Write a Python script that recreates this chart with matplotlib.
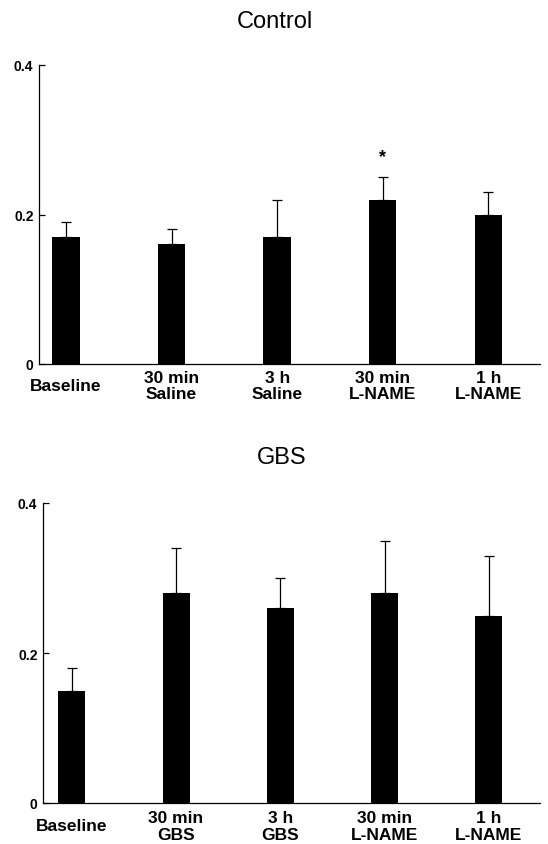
import matplotlib
matplotlib.use("Agg")
import matplotlib.pyplot as plt
from matplotlib.transforms import blended_transform_factory
import numpy as np

plt.rcParams['font.family'] = ['Liberation Sans', 'DejaVu Sans']

# Control panel
control_labels = ["Baseline", "30 min\nSaline", "3 h\nSaline", "30 min\nL-NAME", "1 h\nL-NAME"]
control_means = [0.17, 0.16, 0.17, 0.22, 0.20]
control_errs = [0.02, 0.02, 0.05, 0.03, 0.03]
control_marks = ["", "", "", "*", ""]

# GBS panel
gbs_labels = ["Baseline", "30 min\nGBS", "3 h\nGBS", "30 min\nL-NAME", "1 h\nL-NAME"]
gbs_means = [0.15, 0.28, 0.26, 0.28, 0.25]
gbs_errs = [0.03, 0.06, 0.04, 0.07, 0.08]

y_ticks = [0, 0.2, 0.4]
y_ticklabels = ["0", "0.2", "0.4"]


def draw_panel(ax, labels, means, errs, marks, xlim, label_pad):
    x = np.arange(len(means))
    ax.bar(x, means, width=0.26, color='black', zorder=2)
    ax.errorbar(x, means, yerr=[np.zeros(len(errs)), errs], fmt='none',
                ecolor='black', elinewidth=0.9, capsize=3.5, capthick=0.9, zorder=1)
    for xi, m, e, s in zip(x, means, errs, marks):
        if s:
            ax.text(xi, m + e + 0.028, s, ha='center', va='center',
                    fontsize=13, fontweight='bold')

    ax.set_xlim(*xlim)
    ax.set_ylim(0, 0.4)
    ax.set_yticks(y_ticks)
    ax.set_yticklabels(y_ticklabels, fontsize=10, fontweight='bold')
    ax.tick_params(axis='y', direction='in', length=4, width=0.9, pad=4)
    ax.set_xticks([])

    # category labels, centred a little below the axis
    trans = blended_transform_factory(ax.transData, ax.transAxes)
    for xi, lab in zip(x, labels):
        ax.annotate(lab, xy=(xi, 0), xycoords=trans, xytext=(0, -label_pad),
                    textcoords='offset points', ha='center', va='center',
                    fontsize=12.5, fontweight='bold', linespacing=1.1,
                    annotation_clip=False)

    ax.spines['top'].set_visible(False)
    ax.spines['right'].set_visible(False)
    ax.spines['left'].set_linewidth(0.9)
    ax.spines['bottom'].set_linewidth(0.9)


fig = plt.figure(figsize=(5.48, 8.45), dpi=100)

ax1 = fig.add_axes([39 / 548, 1 - 365 / 845, (540 - 39) / 548, (365 - 66) / 845])
draw_panel(ax1, control_labels, control_means, control_errs, control_marks,
           (-0.256, 4.49), 15.5)

ax2 = fig.add_axes([43 / 548, 1 - 804 / 845, (540 - 43) / 548, (804 - 504) / 845])
draw_panel(ax2, gbs_labels, gbs_means, gbs_errs, [""] * 5, (-0.276, 4.49), 16.5)

fig.text(275 / 548, 1 - 22 / 845, "Control", ha='center', va='center', fontsize=17)
fig.text(282 / 548, 1 - 458 / 845, "GBS", ha='center', va='center', fontsize=17)

fig.savefig("out.png", dpi=100)
